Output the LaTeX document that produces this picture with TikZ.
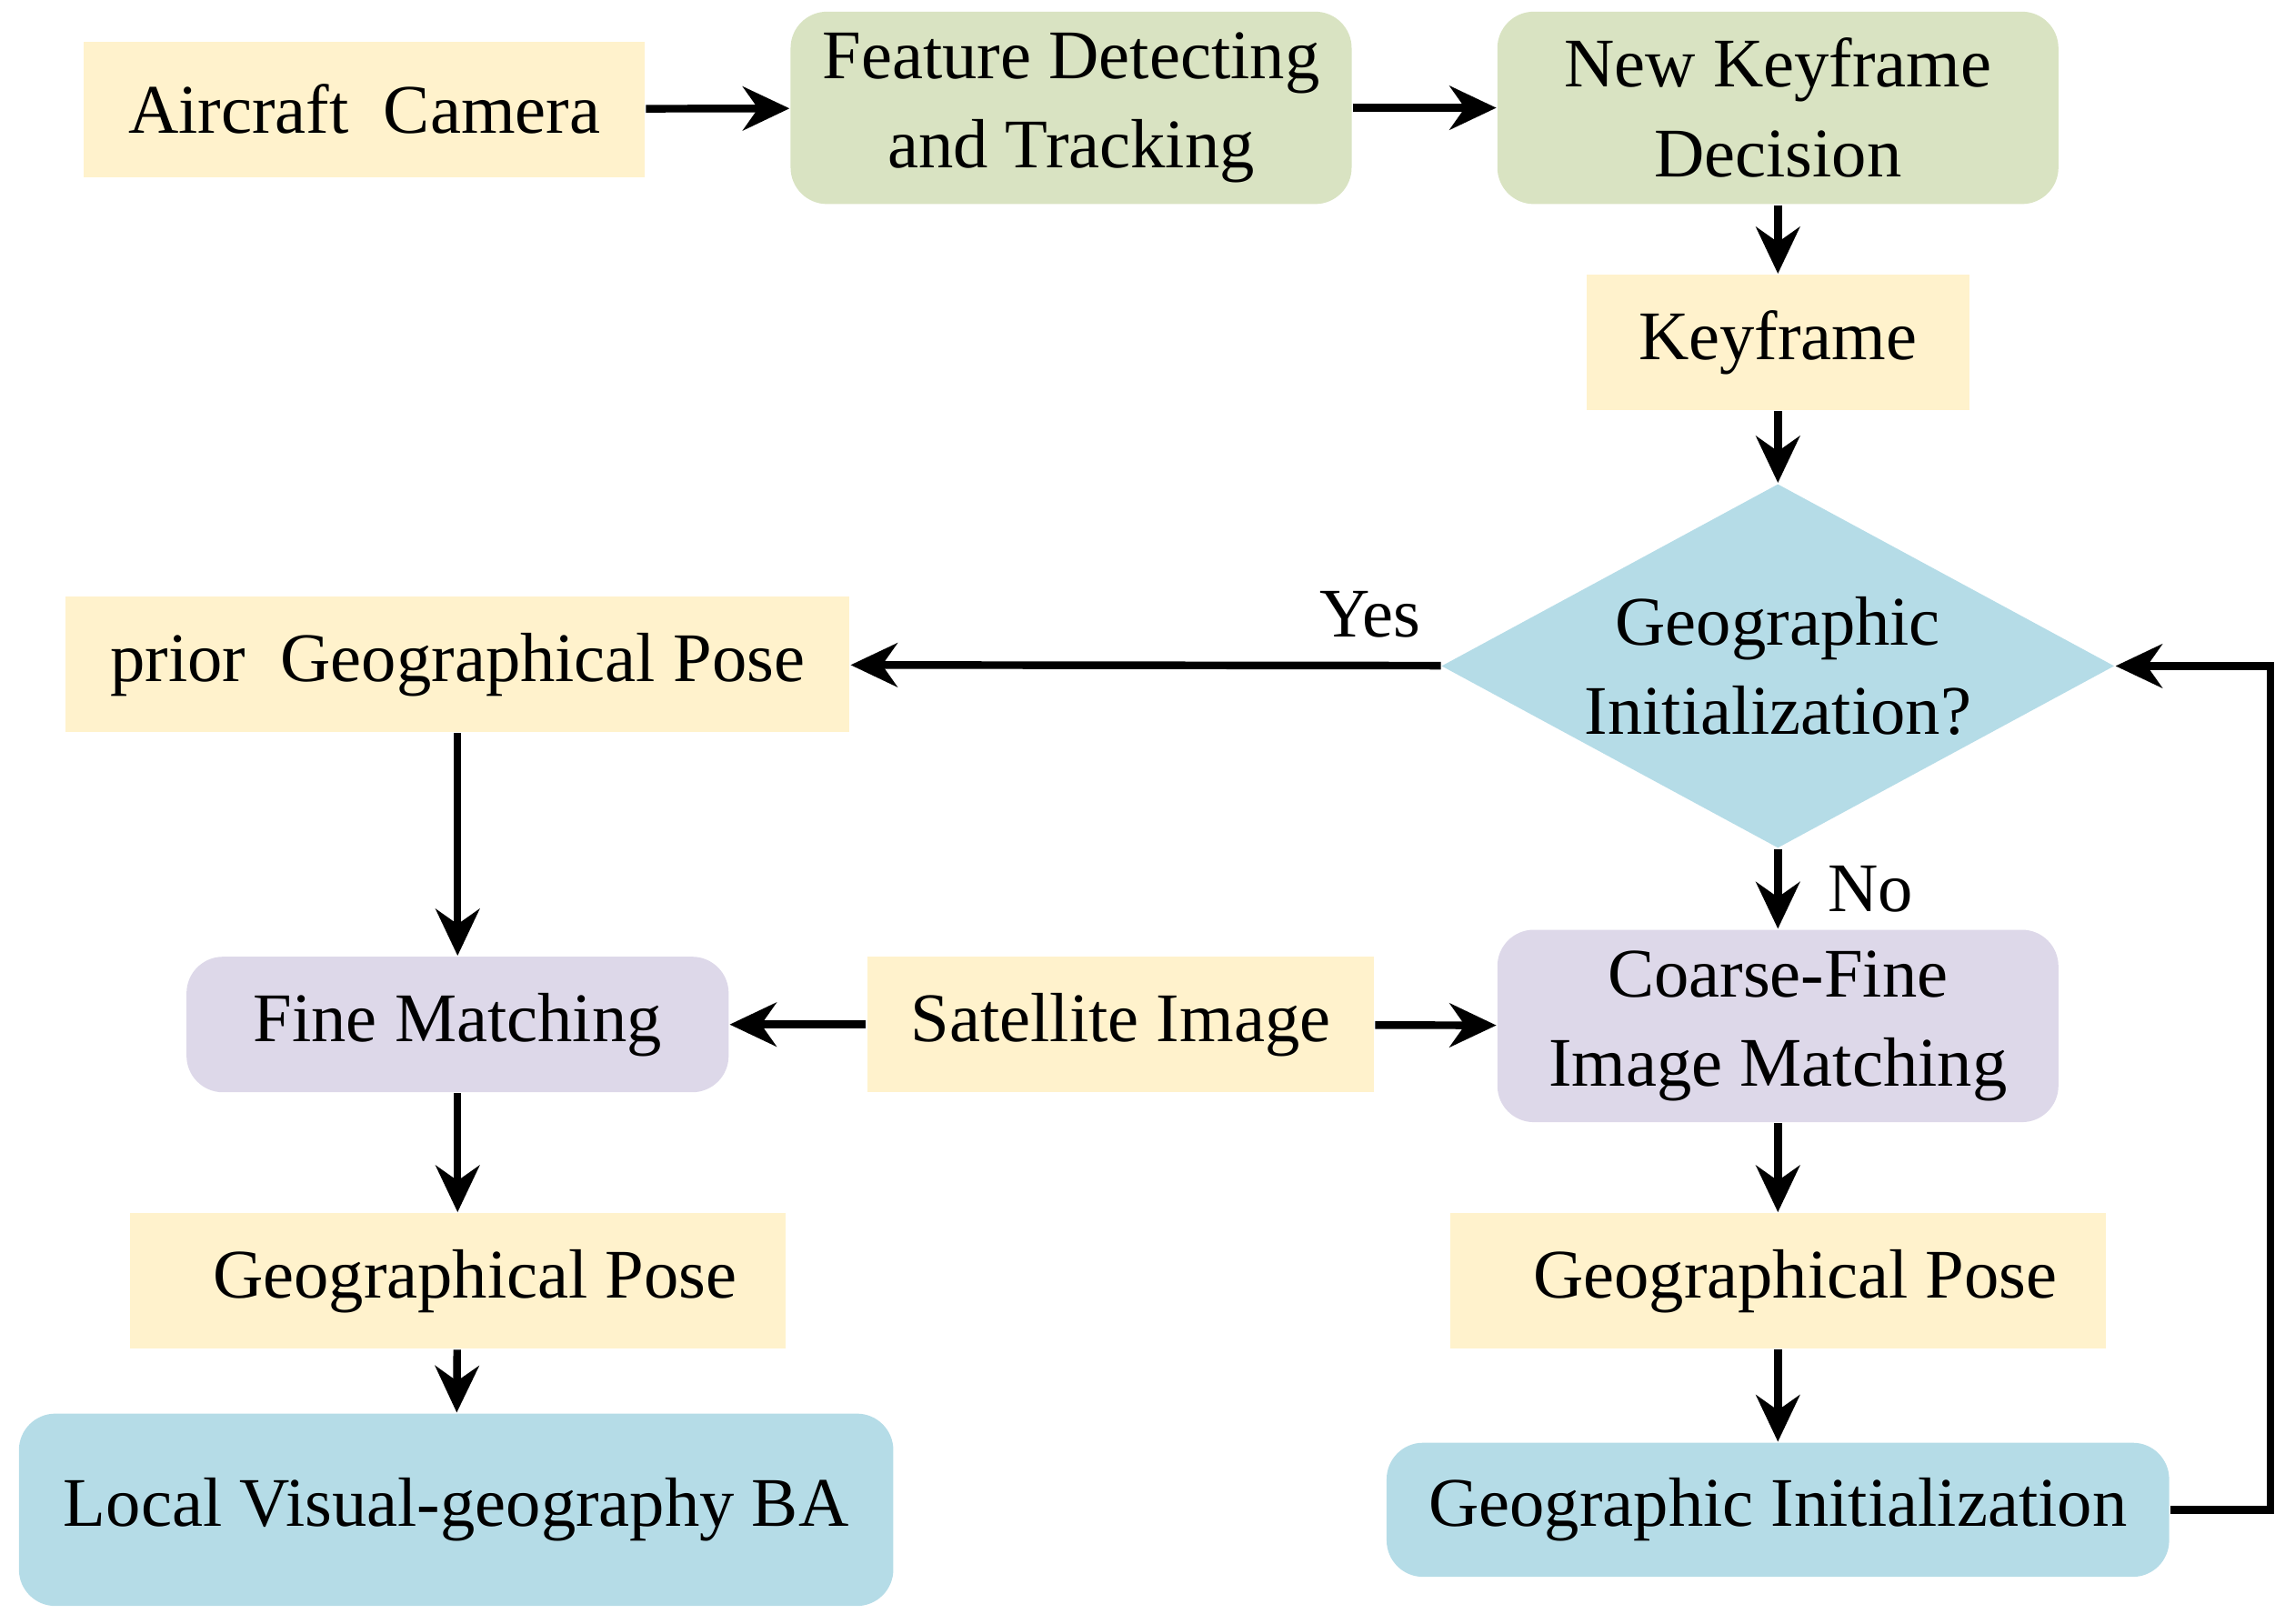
\documentclass[tikz,border=0pt]{standalone}
\usepackage{fontspec}
\setmainfont{Liberation Serif}
\usetikzlibrary{shapes.geometric,arrows.meta}
\definecolor{cyel}{HTML}{FFF2CC}
\definecolor{cgrn}{HTML}{D9E3C2}
\definecolor{cpur}{HTML}{DDD8E9}
\definecolor{cblu}{HTML}{B5DCE7}
\begin{document}
\begin{tikzpicture}[
    box/.style={rectangle, inner sep=0pt, align=center, font=\fontsize{13.6}{17.5}\selectfont},
    sq/.style={box, fill=cyel},
    rnd/.style={box, rounded corners=0.25cm},
    arrow/.style={-{Stealth[length=0.32cm,width=0.3cm]}, line width=1.5pt}
]
\useasboundingbox (0,0) rectangle (15.68,-11.14);

% Top row
\node[sq, minimum width=3.85cm, minimum height=0.93cm] (cam) at (2.5,-0.75) {Aircraft~ Camera};
\node[rnd, fill=cgrn, minimum width=3.85cm, minimum height=1.32cm] (feat) at (7.35,-0.74) {Feature Detecting\\and Tracking};
\node[rnd, fill=cgrn, minimum width=3.85cm, minimum height=1.32cm] (newkf) at (12.2,-0.74) {New Keyframe\\Decision};

% Right column
\node[sq, minimum width=2.63cm, minimum height=0.93cm] (kf) at (12.2,-2.35) {Keyframe};
\node[diamond, fill=cblu, inner sep=0pt, minimum width=4.62cm, minimum height=2.5cm, shape aspect=1.85] (init) at (12.2,-4.57) {};
\node[box] (inittext) at (init.center) {Geographic\\Initialization?};
\node[rnd, fill=cpur, minimum width=3.85cm, minimum height=1.32cm] (coarse) at (12.2,-7.04) {Coarse-Fine\\Image Matching};
\node[sq, minimum width=4.5cm, minimum height=0.93cm] (gpr) at (12.2,-8.79) {~~Geographical Pose};
\node[rnd, fill=cblu, minimum width=5.37cm, minimum height=0.92cm] (ginit) at (12.2,-10.36) {Geographic Initialization};

% Left column
\node[sq, minimum width=5.38cm, minimum height=0.93cm] (prior) at (3.14,-4.56) {prior~ Geographical Pose};
\node[rnd, fill=cpur, minimum width=3.72cm, minimum height=0.93cm] (fine) at (3.14,-7.03) {Fine Matching};
\node[sq, minimum width=3.48cm, minimum height=0.93cm] (sat) at (7.69,-7.03) {Satellite Image};
\node[sq, minimum width=4.5cm, minimum height=0.93cm] (gpl) at (3.14,-8.79) {~~Geographical Pose};
\node[rnd, fill=cblu, minimum width=6.0cm, minimum height=1.32cm] (ba) at (3.13,-10.36) {Local Visual-geography BA};

\coordinate (loop) at (15.58,-10.36);

% Arrows
\draw[arrow] (cam) -- (feat);
\draw[arrow] (feat) -- (newkf);
\draw[arrow] (newkf) -- (kf);
\draw[arrow] (kf) -- (init);
\draw[arrow] (init) -- node[above, pos=0.12, yshift=0.05cm, font=\fontsize{13.6}{17.5}\selectfont]{Yes} (prior);
\draw[arrow] (init) -- node[right, xshift=0.2cm, font=\fontsize{13.6}{17.5}\selectfont]{No} (coarse);
\draw[arrow] (prior) -- (fine);
\draw[arrow] (sat) -- (fine);
\draw[arrow] (sat) -- (coarse);
\draw[arrow] (fine) -- (gpl);
\draw[arrow] (gpl) -- (ba);
\draw[arrow] (coarse) -- (gpr);
\draw[arrow] (gpr) -- (ginit);
\draw[arrow] (ginit) -- (loop) |- (init);

\end{tikzpicture}
\end{document}
